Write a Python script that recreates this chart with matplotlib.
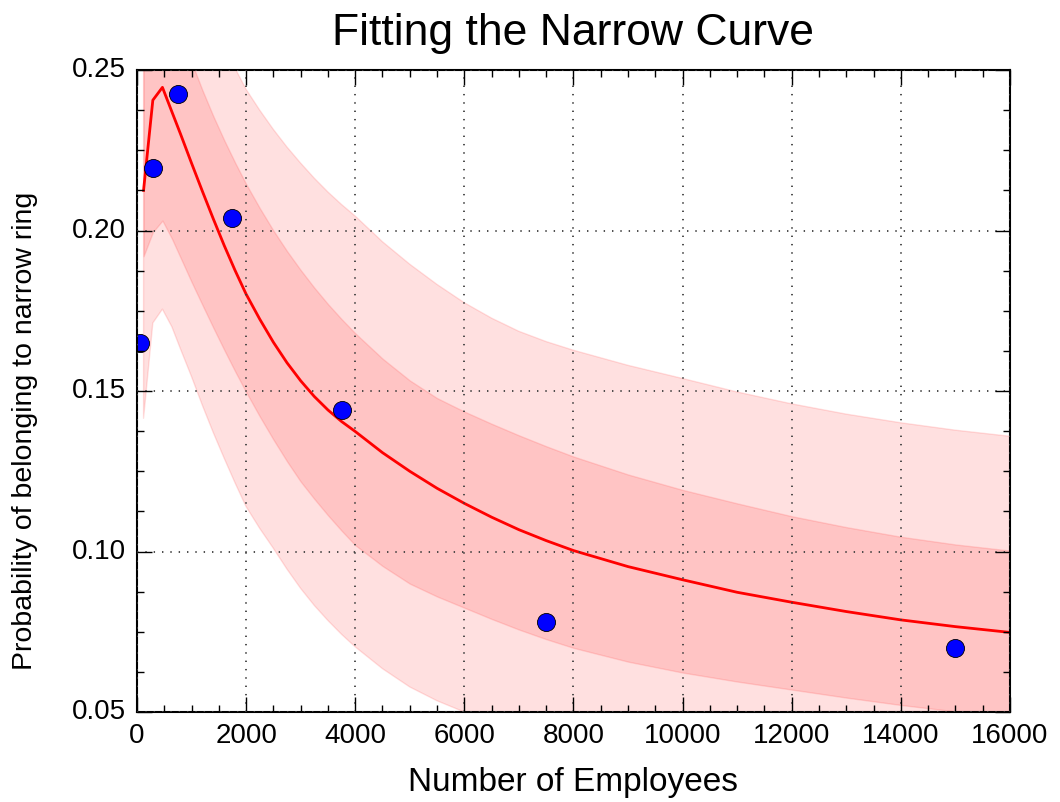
import matplotlib
matplotlib.use('Agg')
import matplotlib.pyplot as plt
from matplotlib.ticker import MultipleLocator


# observed fractions per company-size bin
emp = [50, 300, 750, 1750, 3750, 7500, 15000]
prob = [0.165, 0.2195, 0.2425, 0.2039, 0.144, 0.078, 0.070]

# fitted curve + bands
fit_x = [121, 291, 467, 640, 800, 1000, 1200, 1400, 1600, 1800, 2000,
         2250, 2500, 2750, 3000, 3250, 3500, 3750, 4000, 4500, 5000, 5500,
         6000, 6500, 7000, 7500, 8000, 9000, 10000, 11000, 12000, 13000,
         14000, 15000, 16000]
fit_mid = [0.2125, 0.2406, 0.2446, 0.2370, 0.2300, 0.2210, 0.2122, 0.2036,
           0.1953, 0.1875, 0.1802, 0.1724, 0.1652, 0.1588, 0.1532, 0.1483,
           0.1441, 0.1405, 0.1374, 0.1308, 0.1250, 0.1197, 0.1150, 0.1107,
           0.1068, 0.1034, 0.1003, 0.0953, 0.0912, 0.0873, 0.0842, 0.0813,
           0.0787, 0.0766, 0.0748]
inner_hi = [0.262, 0.285, 0.292, 0.285, 0.273, 0.2525, 0.2437, 0.2356,
            0.2281, 0.2211, 0.2145, 0.2070, 0.2000, 0.1936, 0.1877, 0.1822,
            0.1771, 0.1724, 0.1680, 0.1601, 0.1533, 0.1478, 0.1436, 0.1398,
            0.1362, 0.1328, 0.1296, 0.1240, 0.1192, 0.1150, 0.1110, 0.1076,
            0.1046, 0.1022, 0.1003]
inner_lo = [0.192, 0.1995, 0.2031, 0.1975, 0.1915, 0.1840, 0.1768, 0.1697,
            0.1628, 0.1561, 0.1497, 0.1421, 0.1349, 0.1281, 0.1218, 0.1164,
            0.1113, 0.1065, 0.1020, 0.0955, 0.0900, 0.0860, 0.0825, 0.0790,
            0.0757, 0.0727, 0.0700, 0.0657, 0.0623, 0.0595, 0.0570, 0.0545,
            0.0522, 0.0502, 0.0485]
outer_hi = [0.300, 0.330, 0.337, 0.333, 0.322, 0.305, 0.2895, 0.2755,
            0.2625, 0.2505, 0.2440, 0.2375, 0.2315, 0.2260, 0.2210, 0.2163,
            0.2120, 0.2081, 0.2045, 0.1965, 0.1895, 0.1832, 0.1775, 0.1727,
            0.1686, 0.1654, 0.1627, 0.1580, 0.1539, 0.1497, 0.1460, 0.1428,
            0.1401, 0.1378, 0.1359]
outer_lo = [0.1415, 0.1712, 0.1755, 0.1700, 0.1630, 0.1545, 0.1455, 0.1370,
            0.1290, 0.1213, 0.1140, 0.1072, 0.1010, 0.0945, 0.0885, 0.0832,
            0.0785, 0.0742, 0.0703, 0.0635, 0.0578, 0.0535, 0.0500, 0.0470,
            0.0445, 0.0420, 0.0400, 0.0370, 0.0340, 0.0320, 0.0300, 0.0285,
            0.0270, 0.0260, 0.0250]

FONT = ['Liberation Sans', 'DejaVu Sans']


def plot_fit(filename: str):
    plt.style.use('classic')
    plt.rcParams['font.family'] = FONT

    fig = plt.figure(figsize=(10.6, 8.02), dpi=100, facecolor='white')
    ax = fig.add_axes([0.1292, 0.1122, 0.8236, 0.8005])

    ax.fill_between(fit_x, outer_lo, outer_hi, color='red', alpha=0.12, lw=1)
    ax.fill_between(fit_x, inner_lo, inner_hi, color='red', alpha=0.12, lw=1)
    ax.plot(fit_x, fit_mid, color='red', lw=2)
    ax.plot(emp, prob, 'o', color='blue', markersize=13, markeredgecolor='k',
            markeredgewidth=0.6)

    ax.set_xlim(0, 16000)
    ax.set_ylim(0.05, 0.25)
    ax.xaxis.set_major_locator(MultipleLocator(2000))
    ax.xaxis.set_minor_locator(MultipleLocator(500))
    ax.yaxis.set_major_locator(MultipleLocator(0.05))
    ax.yaxis.set_minor_locator(MultipleLocator(0.0125))
    ax.tick_params(which='major', length=11, width=1, labelsize=20, pad=8)
    ax.tick_params(which='minor', length=5, width=1)
    for s in ax.spines.values():
        s.set_linewidth(1.5)

    ax.grid(True, which='major', color='0.25', linestyle=(0, (1, 5)), lw=1.3)

    ax.set_title('Fitting the Narrow Curve', fontsize=32, pad=18)
    ax.set_xlabel('Number of Employees', fontsize=24, labelpad=13)
    ax.set_ylabel('Probability of belonging to narrow ring', fontsize=20.5)
    # label sits a bit below the axes centre in the original
    ax.yaxis.set_label_coords(-0.113, 0.438)

    fig.savefig(filename, dpi=100, facecolor='white')
    plt.close(fig)


def main():
    plot_fit('out.png')


if __name__ == '__main__':
    main()
